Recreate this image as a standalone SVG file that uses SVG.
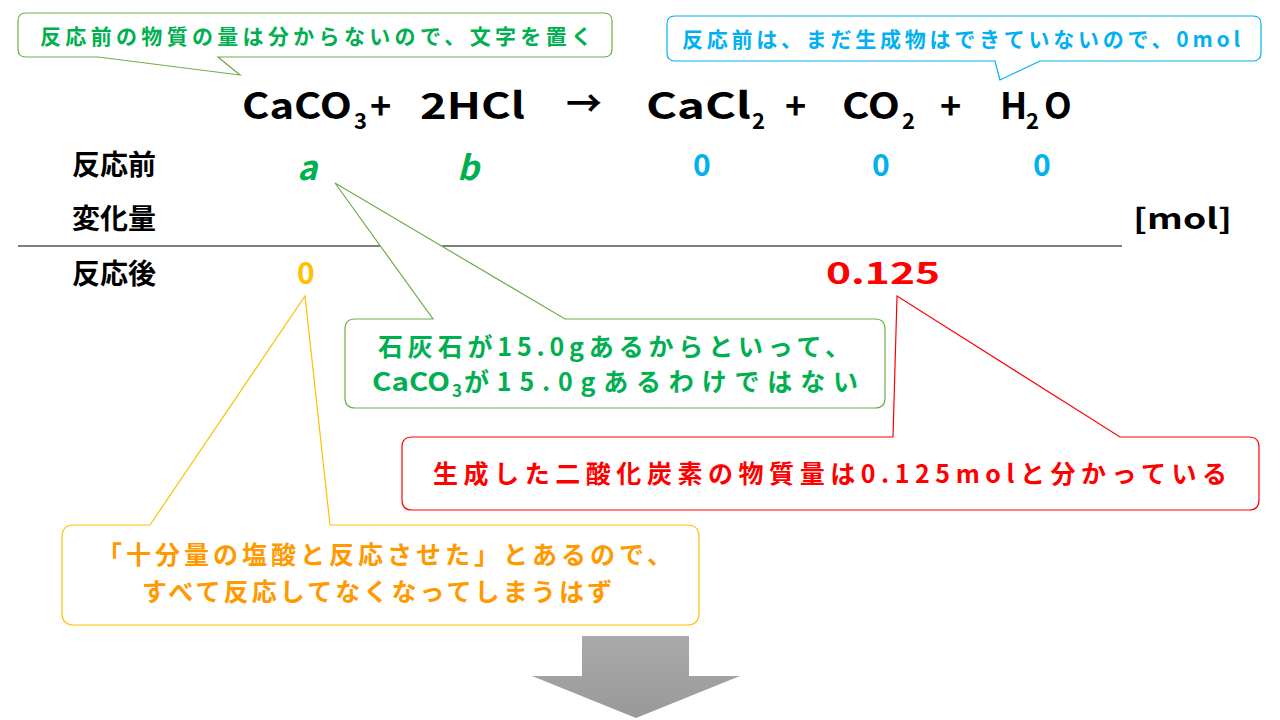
<svg xmlns="http://www.w3.org/2000/svg" width="1280" height="720" viewBox="0 0 1280 720">
<defs>
<linearGradient id="g" x1="0" y1="0" x2="0" y2="1"><stop offset="0" stop-color="#aaa"/><stop offset="1" stop-color="#999"/></linearGradient>
</defs>
<style>
text{font-family:"Noto Sans CJK JP","Noto Sans",sans-serif;font-weight:bold}
.eq{font-size:36px;fill:#000}
.lb{font-size:28px;fill:#000}
.c{fill:#fff;stroke-width:1.2}
</style>
<rect width="1280" height="720" fill="#fff"/>
<g id="connectors">
<line x1="18" y1="246" x2="1122" y2="246" stroke="#555" stroke-width="1.3"/>
</g>
<g id="eq">
<text class="eq" x="242" y="119" textLength="110" lengthAdjust="spacingAndGlyphs">CaCO</text>
<text x="354" y="129" font-size="22">3</text>
<text class="eq" x="370" y="119">+</text>
<text class="eq" x="420" y="119" textLength="105" lengthAdjust="spacingAndGlyphs">2HCl</text>
<text class="eq" x="566" y="117">→</text>
<text class="eq" x="646" y="119" textLength="105" lengthAdjust="spacingAndGlyphs">CaCl</text>
<text x="752" y="129" font-size="22">2</text>
<text class="eq" x="785" y="119">+</text>
<text class="eq" x="842" y="119" textLength="58" lengthAdjust="spacingAndGlyphs">CO</text>
<text x="902" y="129" font-size="22">2</text>
<text class="eq" x="940" y="119">+</text>
<text class="eq" x="1000" y="119">H</text>
<text x="1026" y="129" font-size="22">2</text>
<text class="eq" x="1044" y="119">O</text>
</g>
<g id="rows">
<text class="lb" x="72" y="175">反応前</text>
<text class="lb" x="72" y="229">変化量</text>
<text class="lb" x="72" y="284">反応後</text>
<text class="lb" x="1133" y="229" textLength="99" lengthAdjust="spacingAndGlyphs">[mol]</text>
<text x="297" y="180" font-size="34" fill="#00b050" font-family="Liberation Serif,serif" font-style="italic">a</text>
<text x="457" y="180" font-size="34" fill="#00b050" font-family="Liberation Serif,serif" font-style="italic">b</text>
<text x="693" y="176" font-size="30" fill="#00b0f0">0</text>
<text x="872" y="176" font-size="30" fill="#00b0f0">0</text>
<text x="1033" y="176" font-size="30" fill="#00b0f0">0</text>
<text x="297" y="284" font-size="30" fill="#ffc000">0</text>
<text x="826" y="284" font-size="30" fill="#ff0000" textLength="114" lengthAdjust="spacingAndGlyphs">0.125</text>
</g>
<g id="callout1">
<path class="c" stroke="#70ad47" d="M26,13 H604 Q612,13 612,21 V49 Q612,57 604,57 H218 L240,75 L98,57 H26 Q18,57 18,49 V21 Q18,13 26,13 Z"/>
<text x="40" y="44" font-size="21" fill="#00b050" textLength="552" lengthAdjust="spacing">反応前の物質の量は分からないので、文字を置く</text>
</g>
<g id="callout2">
<path class="c" stroke="#00b0f0" d="M675,16 H1253 Q1261,16 1261,24 V53 Q1261,61 1253,61 H1040 L1000,80 L995,61 H675 Q667,61 667,53 V24 Q667,16 675,16 Z"/>
<text x="682" y="47" font-size="21" fill="#00b0f0" textLength="558" lengthAdjust="spacing">反応前は、まだ生成物はできていないので、0mol</text>
</g>
<g id="callout3">
<path class="c" stroke="#70ad47" d="M355,319 H433 L335,183 L565,319 H875 Q885,319 885,329 V398 Q885,408 875,408 H355 Q345,408 345,398 V329 Q345,319 355,319 Z"/>
<text x="378" y="356" font-size="25" fill="#00b050" textLength="472" lengthAdjust="spacing">石灰石が15.0gあるからといって、</text>
<text x="372" y="391" font-size="25" fill="#00b050" textLength="78" lengthAdjust="spacingAndGlyphs">CaCO</text>
<text x="452" y="397" font-size="17" fill="#00b050">3</text>
<text x="464" y="391" font-size="25" fill="#00b050" textLength="394" lengthAdjust="spacing">が15.0gあるわけではない</text>
</g>
<g id="callout4">
<path class="c" stroke="#ff0000" d="M412,437 H893 L897,296 L1120,437 H1249 Q1259,437 1259,447 V500 Q1259,510 1249,510 H412 Q402,510 402,500 V447 Q402,437 412,437 Z"/>
<text x="433" y="483" font-size="25" fill="#ff0000" textLength="794" lengthAdjust="spacing">生成した二酸化炭素の物質量は0.125molと分かっている</text>
</g>
<g id="callout5">
<path class="c" stroke="#ffc000" d="M74,525 H150 L305,296 L330,525 H687 Q699,525 699,537 V613 Q699,625 687,625 H74 Q62,625 62,613 V537 Q62,525 74,525 Z"/>
<text x="97" y="564" font-size="25" fill="#ff9900" textLength="575" lengthAdjust="spacing">「十分量の塩酸と反応させた」とあるので、</text>
<text x="142" y="601" font-size="25" fill="#ff9900" textLength="470" lengthAdjust="spacing">すべて反応してなくなってしまうはず</text>
</g>
<g id="arrow">
<path d="M582,636 H689 V676 H740 L636,718 L532,676 H582 Z" fill="url(#g)"/>
</g>
</svg>
